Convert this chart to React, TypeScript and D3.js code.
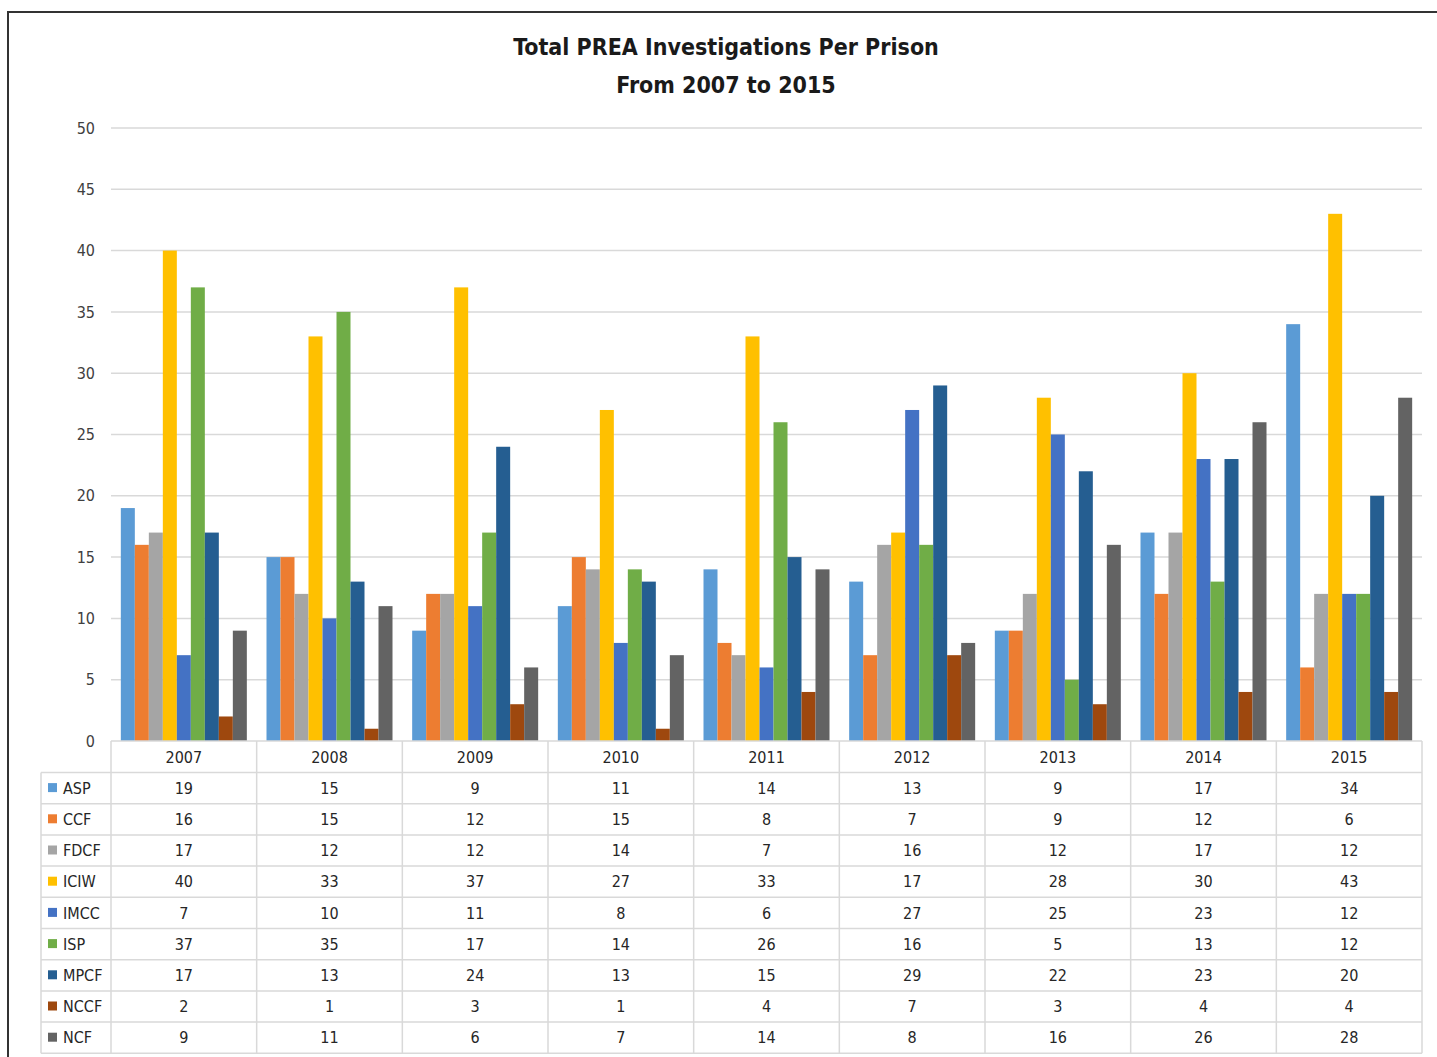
import React, { useEffect, useRef } from 'react';
import * as d3 from 'd3';

const years = ['2007', '2008', '2009', '2010', '2011', '2012', '2013', '2014', '2015'];
const prisons = ['ASP', 'CCF', 'FDCF', 'ICIW', 'IMCC', 'ISP', 'MPCF', 'NCCF', 'NCF'];
const colors = ['#5B9BD5', '#ED7D31', '#A5A5A5', '#FFC000', '#4472C4', '#70AD47', '#255E91', '#9E480E', '#636363'];

const asp = [19, 15, 9, 11, 14, 13, 9, 17, 34];
const ccf = [16, 15, 12, 15, 8, 7, 9, 12, 6];
const fdcf = [17, 12, 12, 14, 7, 16, 12, 17, 12];
const iciw = [40, 33, 37, 27, 33, 17, 28, 30, 43];
const imcc = [7, 10, 11, 8, 6, 27, 25, 23, 12];
const isp = [37, 35, 17, 14, 26, 16, 5, 13, 12];
const mpcf = [17, 13, 24, 13, 15, 29, 22, 23, 20];
const nccf = [2, 1, 3, 1, 4, 7, 3, 4, 4];
const ncf = [9, 11, 6, 7, 14, 8, 16, 26, 28];
const series = [asp, ccf, fdcf, iciw, imcc, isp, mpcf, nccf, ncf];

const yTicks = [0, 5, 10, 15, 20, 25, 30, 35, 40, 45, 50];
const titleLines = ['Total PREA Investigations Per Prison', 'From 2007 to 2015'];

const FONT = "'Liberation Sans Narrow', 'DejaVu Sans Condensed', 'Roboto', sans-serif";

const App: React.FC = () => {
  const svgRef = useRef<SVGSVGElement>(null);

  useEffect(() => {
    if (!svgRef.current) return;
    const width = 1437;
    const height = 1057;
    const svg = d3.select(svgRef.current);
    svg.selectAll('*').remove();

    const left = 111;
    const right = 1422;
    const top = 128;
    const base = 741;

    // frame
    svg.append('rect')
      .attr('x', 8).attr('y', 12)
      .attr('width', width).attr('height', height)
      .attr('fill', 'white')
      .attr('stroke', '#333').attr('stroke-width', 2);

    // title
    titleLines.forEach((t, i) => {
      svg.append('text')
        .attr('x', 726).attr('y', 55 + i * 38)
        .attr('text-anchor', 'middle')
        .attr('fill', '#1a1a1a')
        .style('font-family', FONT)
        .style('font-size', '23px')
        .style('font-weight', 'bold')
        .text(t);
    });

    const y = d3.scaleLinear().domain([0, 50]).range([base, top]);
    const x = d3.scaleBand().domain(years).range([left, right]).padding(0);
    const inner = d3.scaleBand().domain(prisons).range([0, 126]).padding(0);
    const offset = (x.bandwidth() - 126) / 2;

    // gridlines + ticks
    yTicks.forEach(t => {
      if (t > 0) {
        svg.append('line')
          .attr('x1', left).attr('x2', right)
          .attr('y1', y(t)).attr('y2', y(t))
          .attr('stroke', '#d9d9d9').attr('stroke-width', 1.5);
      }
      svg.append('text')
        .attr('x', 95).attr('y', y(t))
        .attr('dy', '0.35em')
        .attr('text-anchor', 'end')
        .attr('fill', '#404040')
        .style('font-family', FONT)
        .style('font-size', '16px')
        .text(t);
    });

    // bars
    series.forEach((vals, si) => {
      vals.forEach((v, yi) => {
        svg.append('rect')
          .attr('x', (x(years[yi]) as number) + offset + (inner(prisons[si]) as number))
          .attr('y', y(v))
          .attr('width', inner.bandwidth())
          .attr('height', base - y(v))
          .attr('fill', colors[si]);
      });
    });

    // data table
    const headerH = 31.5;
    const rowH = 31.2;
    const legLeft = 41;
    const lineColor = '#d9d9d9';
    const tableBottom = base + headerH + rowH * prisons.length;

    svg.append('line')
      .attr('x1', left).attr('x2', right)
      .attr('y1', base).attr('y2', base)
      .attr('stroke', lineColor).attr('stroke-width', 1.5);
    for (let r = 0; r <= prisons.length; r++) {
      const yy = base + headerH + r * rowH;
      svg.append('line')
        .attr('x1', legLeft).attr('x2', right)
        .attr('y1', yy).attr('y2', yy)
        .attr('stroke', lineColor).attr('stroke-width', 1.5);
    }
    svg.append('line')
      .attr('x1', legLeft).attr('x2', legLeft)
      .attr('y1', base + headerH).attr('y2', tableBottom)
      .attr('stroke', lineColor).attr('stroke-width', 1.5);
    years.forEach((yr, i) => {
      const xx = x(yr) as number;
      svg.append('line')
        .attr('x1', xx).attr('x2', xx)
        .attr('y1', base).attr('y2', tableBottom)
        .attr('stroke', lineColor).attr('stroke-width', 1.5);
      if (i === years.length - 1) {
        svg.append('line')
          .attr('x1', xx + x.bandwidth()).attr('x2', xx + x.bandwidth())
          .attr('y1', base).attr('y2', tableBottom)
          .attr('stroke', lineColor).attr('stroke-width', 1.5);
      }
      svg.append('text')
        .attr('x', xx + x.bandwidth() / 2)
        .attr('y', base + headerH / 2 + 1)
        .attr('dy', '0.35em')
        .attr('text-anchor', 'middle')
        .attr('fill', '#262626')
        .style('font-family', FONT)
        .style('font-size', '16px')
        .text(yr);
    });

    prisons.forEach((p, si) => {
      const cy = base + headerH + si * rowH + rowH / 2;
      svg.append('rect')
        .attr('x', 48).attr('y', cy - 5)
        .attr('width', 9).attr('height', 9)
        .attr('fill', colors[si]);
      svg.append('text')
        .attr('x', 63).attr('y', cy)
        .attr('dy', '0.35em')
        .attr('fill', '#262626')
        .style('font-family', FONT)
        .style('font-size', '16px')
        .text(p);
      series[si].forEach((v, yi) => {
        svg.append('text')
          .attr('x', (x(years[yi]) as number) + x.bandwidth() / 2)
          .attr('y', cy)
          .attr('dy', '0.35em')
          .attr('text-anchor', 'middle')
          .attr('fill', '#262626')
          .style('font-family', FONT)
          .style('font-size', '16px')
          .text(v);
      });
    });
  }, []);

  return (
    <svg
      ref={svgRef}
      width={1437}
      height={1057}
      style={{ position: 'absolute', left: 0, top: 0, background: 'white' }}
    />
  );
};

export default App;
